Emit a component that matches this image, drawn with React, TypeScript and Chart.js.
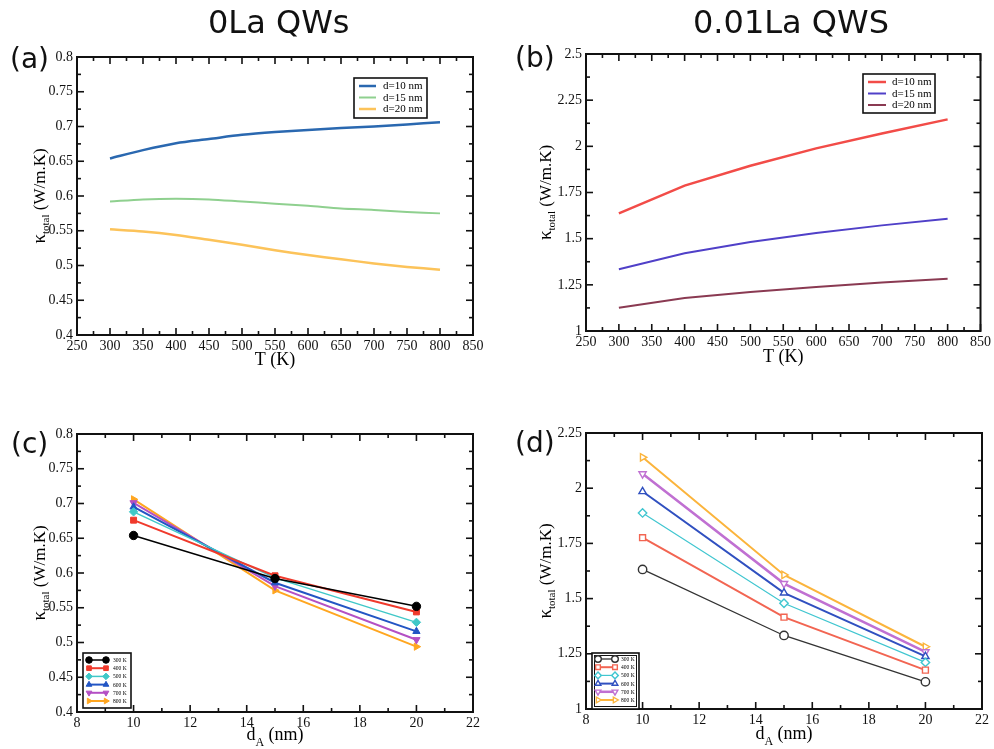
import React, { useEffect, useRef } from 'react';
import Chart from 'chart.js/auto';

// ---------- DATA ----------
const T_FINE = [300, 350, 400, 450, 500, 550, 600, 650, 700, 750, 800];
const A_D10 = [0.654, 0.666, 0.676, 0.682, 0.688, 0.692, 0.695, 0.698, 0.700, 0.703, 0.706];
const A_D15 = [0.592, 0.595, 0.596, 0.595, 0.592, 0.589, 0.586, 0.582, 0.580, 0.577, 0.575];
const A_D20 = [0.552, 0.549, 0.544, 0.537, 0.530, 0.522, 0.515, 0.509, 0.503, 0.498, 0.494];
const D_LABELS = ['d=10 nm', 'd=15 nm', 'd=20 nm'];

const T_STEP = [300, 400, 500, 600, 700, 800];
const B_D10 = [1.637, 1.787, 1.895, 1.989, 2.070, 2.146];
const B_D15 = [1.334, 1.421, 1.482, 1.531, 1.572, 1.608];
const B_D20 = [1.126, 1.179, 1.211, 1.238, 1.262, 1.283];

const D_NM = [10, 15, 20];
const TEMP_LABELS = ['300 K', '400 K', '500 K', '600 K', '700 K', '800 K'];
const C_300 = [0.654, 0.592, 0.552];
const C_400 = [0.676, 0.596, 0.544];
const C_500 = [0.688, 0.593, 0.529];
const C_600 = [0.695, 0.586, 0.516];
const C_700 = [0.701, 0.581, 0.504];
const C_800 = [0.706, 0.575, 0.494];

const D_300 = [1.632, 1.333, 1.123];
const D_400 = [1.776, 1.416, 1.176];
const D_500 = [1.888, 1.479, 1.211];
const D_600 = [1.985, 1.526, 1.238];
const D_700 = [2.065, 1.568, 1.259];
const D_800 = [2.140, 1.607, 1.282];

const TITLE_LEFT = '0La QWs';
const TITLE_RIGHT = '0.01La QWS';
const PANEL_LABELS = ['(a)', '(b)', '(c)', '(d)'];

// ---------- HELPERS ----------
const SERIF = '"Liberation Serif", "Times New Roman", serif';
type Mk = 'circle' | 'rect' | 'rectRot' | 'triUp' | 'triDown' | 'triRight' | 'none';

const pointStyleOf = (m: Mk) =>
  m === 'circle' ? 'circle' : m === 'rect' ? 'rect' : m === 'rectRot' ? 'rectRot' : 'triangle';
const rotationOf = (m: Mk) => (m === 'triDown' ? 180 : m === 'triRight' ? 90 : 0);

function drawMarker(ctx: CanvasRenderingContext2D, m: Mk, x: number, y: number, r: number,
  fill: string, stroke: string, lw: number) {
  if (m === 'none') return;
  ctx.save();
  ctx.translate(x, y);
  ctx.rotate((rotationOf(m) * Math.PI) / 180);
  ctx.beginPath();
  if (m === 'circle') ctx.arc(0, 0, r, 0, Math.PI * 2);
  else if (m === 'rect') { const s = r * Math.SQRT1_2; ctx.rect(-s, -s, 2 * s, 2 * s); }
  else if (m === 'rectRot') { ctx.moveTo(0, -r); ctx.lineTo(r, 0); ctx.lineTo(0, r); ctx.lineTo(-r, 0); ctx.closePath(); }
  else {
    for (let i = 0; i < 3; i++) {
      const ang = -Math.PI / 2 + (i * 2 * Math.PI) / 3;
      const px = r * Math.cos(ang), py = r * Math.sin(ang);
      if (i === 0) ctx.moveTo(px, py); else ctx.lineTo(px, py);
    }
    ctx.closePath();
  }
  ctx.fillStyle = fill; ctx.fill();
  ctx.lineWidth = lw; ctx.strokeStyle = stroke; ctx.stroke();
  ctx.restore();
}

type Part = { t: string; s: number; dy?: number };
function drawRich(ctx: CanvasRenderingContext2D, parts: Part[]) {
  let W = 0;
  const ws = parts.map((p) => { ctx.font = `${p.s}px ${SERIF}`; const w = ctx.measureText(p.t).width; W += w; return w; });
  let x = -W / 2;
  ctx.fillStyle = '#000';
  ctx.textBaseline = 'alphabetic';
  ctx.textAlign = 'left';
  parts.forEach((p, i) => { ctx.font = `${p.s}px ${SERIF}`; ctx.fillText(p.t, x, p.dy || 0); x += ws[i]; });
}

const frameTicks = {
  id: 'frameTicks',
  afterDatasetsDraw(chart: any, _a: any, o: any) {
    const { ctx, chartArea: a, scales } = chart;
    const xs = scales.x, ys = scales.y;
    ctx.save();
    ctx.strokeStyle = '#111';
    ctx.lineWidth = 1.6;
    const ln = (x1: number, y1: number, x2: number, y2: number) => { ctx.beginPath(); ctx.moveTo(x1, y1); ctx.lineTo(x2, y2); ctx.stroke(); };
    const nx = Math.round((xs.max - xs.min) / o.xMinor);
    for (let i = 0; i <= nx; i++) {
      const v = xs.min + i * o.xMinor;
      const major = Math.abs(v / o.xMajor - Math.round(v / o.xMajor)) < 1e-6;
      const len = major ? 7 : 4;
      const px = xs.getPixelForValue(v);
      ln(px, a.bottom, px, a.bottom - len);
      ln(px, a.top, px, a.top + len);
    }
    const ny = Math.round((ys.max - ys.min) / o.yMinor);
    for (let i = 0; i <= ny; i++) {
      const v = ys.min + i * o.yMinor;
      const major = Math.abs(v / o.yMajor - Math.round(v / o.yMajor)) < 1e-6;
      const len = major ? 7 : 4;
      const py = ys.getPixelForValue(v);
      ln(a.left, py, a.left + len, py);
      ln(a.right, py, a.right - len, py);
    }
    ctx.lineWidth = 2;
    ctx.strokeStyle = '#111';
    ctx.strokeRect(a.left, a.top, a.right - a.left, a.bottom - a.top);
    ctx.restore();
  },
};

const axisTitles = {
  id: 'axisTitles',
  afterDraw(chart: any, _a: any, o: any) {
    const { ctx, chartArea: a } = chart;
    ctx.save();
    ctx.translate(a.left - o.yOffset, (a.top + a.bottom) / 2);
    ctx.rotate(-Math.PI / 2);
    drawRich(ctx, o.yParts);
    ctx.restore();
    ctx.save();
    ctx.translate((a.left + a.right) / 2, a.bottom + o.xOffset);
    drawRich(ctx, o.xParts);
    ctx.restore();
  },
};

const boxLegend = {
  id: 'boxLegend',
  afterDraw(chart: any, _a: any, o: any) {
    const { ctx } = chart;
    ctx.save();
    ctx.fillStyle = '#fff';
    ctx.fillRect(o.x, o.y, o.w, o.h);
    ctx.strokeStyle = '#111';
    ctx.lineWidth = 1.6;
    ctx.strokeRect(o.x, o.y, o.w, o.h);
    if (o.double) { ctx.lineWidth = 1; ctx.strokeRect(o.x + 2.5, o.y + 2.5, o.w - 5, o.h - 5); }
    chart.data.datasets.forEach((ds: any, i: number) => {
      const y = o.row0 + i * o.rowGap;
      ctx.strokeStyle = ds.borderColor;
      ctx.lineWidth = ds.borderWidth;
      ctx.beginPath(); ctx.moveTo(o.lx1, y); ctx.lineTo(o.lx2, y); ctx.stroke();
      const m: Mk = ds._mk || 'none';
      if (m !== 'none') {
        drawMarker(ctx, m, o.lx1, y, o.mr, ds.pointBackgroundColor, ds.borderColor, ds.pointBorderWidth);
        drawMarker(ctx, m, o.lx2, y, o.mr, ds.pointBackgroundColor, ds.borderColor, ds.pointBorderWidth);
      }
      ctx.fillStyle = '#000';
      ctx.font = `${o.font}px ${SERIF}`;
      ctx.textBaseline = 'middle';
      ctx.textAlign = 'left';
      ctx.fillText(ds.label, o.tx, y + 0.5);
    });
    ctx.restore();
  },
};

type Series = { label: string; xs: number[]; ys: number[]; color: string; width: number; mk: Mk; filled: boolean; tension: number };

type PanelCfg = {
  left: number; top: number; w: number; h: number;
  yW: number; xH: number; padTop: number; padRight: number;
  xMin: number; xMax: number; xMajor: number; xMinor: number;
  yMin: number; yMax: number; yMajor: number; yMinor: number;
  series: Series[];
  yParts: Part[]; xParts: Part[]; yOffset: number; xOffset: number;
  legend: any;
};

const fmt = (v: number) => String(+Number(v).toFixed(3));

function Panel({ cfg }: { cfg: PanelCfg }) {
  const ref = useRef<HTMLCanvasElement>(null);
  useEffect(() => {
    if (!ref.current) return;
    const datasets = cfg.series.map((s) => ({
      label: s.label,
      data: s.xs.map((x, i) => ({ x, y: s.ys[i] })),
      borderColor: s.color,
      backgroundColor: s.color,
      borderWidth: s.width,
      tension: s.tension,
      pointRadius: s.mk === 'none' ? 0 : 4.2,
      pointStyle: pointStyleOf(s.mk),
      rotation: rotationOf(s.mk),
      pointRotation: rotationOf(s.mk),
      pointBackgroundColor: s.filled ? s.color : '#ffffff',
      pointBorderColor: s.color,
      pointBorderWidth: s.filled ? 1 : 1.4,
      _mk: s.mk,
      fill: false,
    }));
    const lg = cfg.legend;
    const chart = new Chart(ref.current, {
      type: 'line',
      data: { datasets } as any,
      options: {
        animation: false,
        responsive: false,
        devicePixelRatio: 1,
        layout: { padding: { top: cfg.padTop, right: cfg.padRight, left: 0, bottom: 0 } },
        plugins: {
          legend: { display: false },
          tooltip: { enabled: false },
          frameTicks: { xMajor: cfg.xMajor, xMinor: cfg.xMinor, yMajor: cfg.yMajor, yMinor: cfg.yMinor },
          axisTitles: { yParts: cfg.yParts, xParts: cfg.xParts, yOffset: cfg.yOffset, xOffset: cfg.xOffset },
          boxLegend: { ...lg, x: lg.x - cfg.left, y: lg.y - cfg.top, lx1: lg.lx1 - cfg.left, lx2: lg.lx2 - cfg.left, tx: lg.tx - cfg.left, row0: lg.row0 - cfg.top },
        } as any,
        scales: {
          x: {
            type: 'linear', min: cfg.xMin, max: cfg.xMax,
            grid: { display: false, drawTicks: false },
            border: { display: false },
            ticks: { stepSize: cfg.xMajor, autoSkip: false, maxRotation: 0, padding: 3, color: '#111', font: { family: SERIF, size: 14 }, callback: (v: any) => fmt(v) },
            afterFit: (s: any) => { s.height = cfg.xH; },
          },
          y: {
            type: 'linear', min: cfg.yMin, max: cfg.yMax,
            grid: { display: false, drawTicks: false },
            border: { display: false },
            ticks: { stepSize: cfg.yMajor, autoSkip: false, padding: 4, color: '#111', font: { family: SERIF, size: 14 }, callback: (v: any) => fmt(v) },
            afterFit: (s: any) => { s.width = cfg.yW; },
          },
        },
      } as any,
      plugins: [frameTicks, axisTitles, boxLegend] as any,
    });
    return () => chart.destroy();
  }, [cfg]);
  return (
    <canvas ref={ref} width={cfg.w} height={cfg.h}
      style={{ position: 'absolute', left: cfg.left, top: cfg.top, width: cfg.w, height: cfg.h }} />
  );
}

const Y_TITLE: Part[] = [{ t: 'κ', s: 19 }, { t: 'total', s: 11, dy: 4 }, { t: ' (W/m.K)', s: 17 }];
const X_T: Part[] = [{ t: 'T (K)', s: 18 }];
const X_D: Part[] = [{ t: 'd', s: 18 }, { t: 'A', s: 12, dy: 6 }, { t: ' (nm)', s: 18 }];

const mkLine = (label: string, xs: number[], ys: number[], color: string, width: number, tension: number): Series =>
  ({ label, xs, ys, color, width, mk: 'none', filled: true, tension });

const CFG_A: PanelCfg = {
  left: 0, top: 30, w: 497, h: 350, yW: 77, xH: 45, padTop: 27, padRight: 24,
  xMin: 250, xMax: 850, xMajor: 50, xMinor: 25, yMin: 0.4, yMax: 0.8, yMajor: 0.05, yMinor: 0.025,
  series: [
    mkLine(D_LABELS[0], T_FINE, A_D10, '#2a68b0', 2.5, 0.3),
    mkLine(D_LABELS[1], T_FINE, A_D15, '#8fd08f', 2, 0.3),
    mkLine(D_LABELS[2], T_FINE, A_D20, '#fcc35a', 2.5, 0.3),
  ],
  yParts: Y_TITLE, xParts: X_T, yOffset: 32, xOffset: 30,
  legend: { x: 354, y: 78, w: 73, h: 40, row0: 86, rowGap: 11.5, lx1: 359, lx2: 376, tx: 383, font: 11, mr: 0 },
};

const CFG_B: PanelCfg = {
  left: 497, top: 30, w: 497, h: 350, yW: 89, xH: 49, padTop: 24, padRight: 12,
  xMin: 250, xMax: 850, xMajor: 50, xMinor: 25, yMin: 1, yMax: 2.5, yMajor: 0.25, yMinor: 0.125,
  series: [
    mkLine(D_LABELS[0], T_STEP, B_D10, '#f24c48', 2.5, 0),
    mkLine(D_LABELS[1], T_STEP, B_D15, '#5040c8', 2, 0),
    mkLine(D_LABELS[2], T_STEP, B_D20, '#8a3a52', 2, 0),
  ],
  yParts: Y_TITLE, xParts: X_T, yOffset: 35, xOffset: 31,
  legend: { x: 863, y: 74, w: 72, h: 39, row0: 82, rowGap: 11.5, lx1: 868, lx2: 886, tx: 892, font: 11, mr: 0 },
};

const TEMP_COLORS_C = ['#000000', '#f03a2c', '#40c8c8', '#2255c4', '#b450c4', '#ffa620'];
const TEMP_COLORS_D = ['#333333', '#f26552', '#40c6d0', '#3050c0', '#c070d2', '#fbb43c'];
const TEMP_MK: Mk[] = ['circle', 'rect', 'rectRot', 'triUp', 'triDown', 'triRight'];
const C_ROWS = [C_300, C_400, C_500, C_600, C_700, C_800];
const D_ROWS = [D_300, D_400, D_500, D_600, D_700, D_800];
const C_WIDTHS = [1.5, 2, 1.5, 2, 2, 2];
const D_WIDTHS = [1.3, 2, 1.2, 2, 2.5, 2];

const CFG_C: PanelCfg = {
  left: 0, top: 400, w: 497, h: 349, yW: 77, xH: 37, padTop: 34, padRight: 24,
  xMin: 8, xMax: 22, xMajor: 2, xMinor: 1, yMin: 0.4, yMax: 0.8, yMajor: 0.05, yMinor: 0.025,
  series: C_ROWS.map((ys, i) => ({ label: TEMP_LABELS[i], xs: D_NM, ys, color: TEMP_COLORS_C[i], width: C_WIDTHS[i], mk: TEMP_MK[i], filled: true, tension: 0 })),
  yParts: Y_TITLE, xParts: X_D, yOffset: 32, xOffset: 28,
  legend: { x: 83, y: 653, w: 48, h: 55, row0: 660, rowGap: 8.2, lx1: 89, lx2: 106, tx: 113, font: 5.5, mr: 3.3 },
};

const CFG_D: PanelCfg = {
  left: 497, top: 400, w: 497, h: 349, yW: 89, xH: 40, padTop: 33, padRight: 12,
  xMin: 8, xMax: 22, xMajor: 2, xMinor: 1, yMin: 1, yMax: 2.25, yMajor: 0.25, yMinor: 0.125,
  series: D_ROWS.map((ys, i) => ({ label: TEMP_LABELS[i], xs: D_NM, ys, color: TEMP_COLORS_D[i], width: D_WIDTHS[i], mk: TEMP_MK[i], filled: false, tension: 0 })),
  yParts: Y_TITLE, xParts: X_D, yOffset: 35, xOffset: 30,
  legend: { x: 592, y: 653, w: 47, h: 56, row0: 659, rowGap: 8.2, lx1: 598, lx2: 615, tx: 621, font: 5.5, mr: 3.3, double: true },
};

const sans = '"DejaVu Sans", sans-serif';
const textStyle = (left: number, top: number, size: number): React.CSSProperties => ({
  position: 'absolute', left, top, fontFamily: sans, fontSize: size, lineHeight: `${size}px`,
  color: '#111', whiteSpace: 'nowrap', zIndex: 2,
});

export default function App() {
  return (
    <div style={{ position: 'absolute', left: 0, top: 0, width: 994, height: 749, background: '#fff', overflow: 'hidden' }}>
      <Panel cfg={CFG_A} />
      <Panel cfg={CFG_B} />
      <Panel cfg={CFG_C} />
      <Panel cfg={CFG_D} />
      <div style={textStyle(208, 6, 32)}>{TITLE_LEFT}</div>
      <div style={textStyle(693, 6, 32)}>{TITLE_RIGHT}</div>
      <div style={textStyle(10, 45, 28)}>{PANEL_LABELS[0]}</div>
      <div style={textStyle(515, 44, 28)}>{PANEL_LABELS[1]}</div>
      <div style={textStyle(11, 430, 28)}>{PANEL_LABELS[2]}</div>
      <div style={textStyle(515, 429, 28)}>{PANEL_LABELS[3]}</div>
    </div>
  );
}
